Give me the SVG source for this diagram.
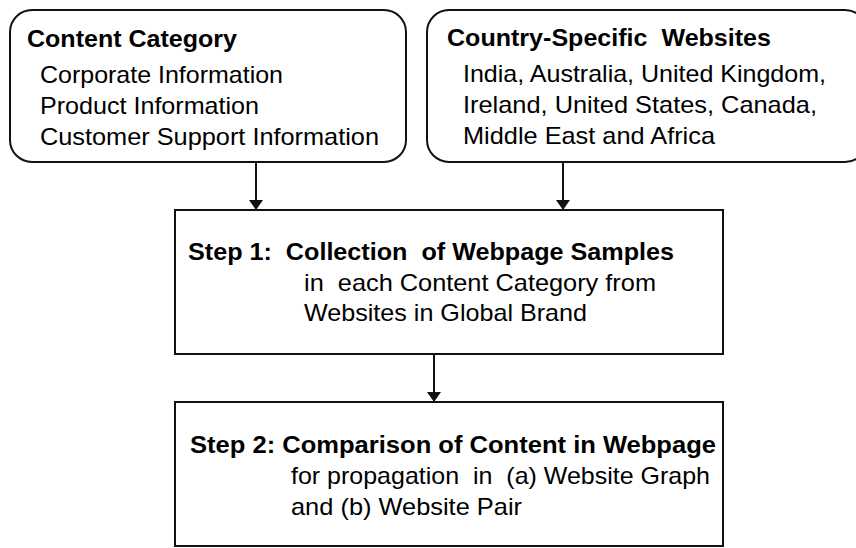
<svg xmlns="http://www.w3.org/2000/svg" width="856" height="548" viewBox="0 0 856 548">
  <style>
    .box { fill: #ffffff; stroke: #111111; stroke-width: 2; }
    .edge { stroke: #111111; stroke-width: 2; fill: none; }
    text { font-family: "Liberation Sans", Arial, sans-serif; font-size: 24px; fill: #000000; white-space: pre; }
    .title { font-weight: bold; }
  </style>
  <defs>
    <marker id="arrow" viewBox="0 0 10 14" refX="10" refY="7" markerWidth="10" markerHeight="14" markerUnits="userSpaceOnUse" orient="auto">
      <path d="M0,0 L10,7 L0,14 Z" fill="#111111"/>
    </marker>
  </defs>

  <rect width="856" height="548" fill="#ffffff"/>

  <g id="content-category">
    <rect class="box" x="10" y="10" width="396" height="152" rx="22" ry="22"/>
    <text class="title" x="27" y="47" textLength="210" lengthAdjust="spacingAndGlyphs">Content Category</text>
    <text x="40" y="83" textLength="243" lengthAdjust="spacingAndGlyphs">Corporate Information</text>
    <text x="40" y="114" textLength="219" lengthAdjust="spacingAndGlyphs">Product Information</text>
    <text x="40" y="145" textLength="339" lengthAdjust="spacingAndGlyphs">Customer Support Information</text>
  </g>

  <g id="country-websites">
    <rect class="box" x="427" y="10" width="440" height="152" rx="22" ry="22"/>
    <text class="title" x="447" y="46" textLength="324" lengthAdjust="spacingAndGlyphs">Country-Specific  Websites</text>
    <text x="463" y="82" textLength="363" lengthAdjust="spacingAndGlyphs">India, Australia, United Kingdom,</text>
    <text x="463" y="113" textLength="354" lengthAdjust="spacingAndGlyphs">Ireland, United States, Canada,</text>
    <text x="463" y="144" textLength="252" lengthAdjust="spacingAndGlyphs">Middle East and Africa</text>
  </g>

  <g id="step1">
    <rect class="box" x="175" y="210" width="548" height="144"/>
    <text class="title" x="188" y="260" textLength="486" lengthAdjust="spacingAndGlyphs">Step 1:  Collection  of Webpage Samples</text>
    <text x="304" y="291" textLength="352" lengthAdjust="spacingAndGlyphs">in  each Content Category from</text>
    <text x="304" y="321" textLength="283" lengthAdjust="spacingAndGlyphs">Websites in Global Brand</text>
  </g>

  <g id="step2">
    <rect class="box" x="175" y="402" width="548" height="144"/>
    <text class="title" x="190" y="453" textLength="526" lengthAdjust="spacingAndGlyphs">Step 2: Comparison of Content in Webpage</text>
    <text x="291" y="484" textLength="419" lengthAdjust="spacingAndGlyphs">for propagation  in  (a) Website Graph</text>
    <text x="291" y="515" textLength="231" lengthAdjust="spacingAndGlyphs">and (b) Website Pair</text>
  </g>

  <g id="connectors">
    <line class="edge" x1="256" y1="163" x2="256" y2="210" marker-end="url(#arrow)"/>
    <line class="edge" x1="563" y1="163" x2="563" y2="210" marker-end="url(#arrow)"/>
    <line class="edge" x1="434" y1="355" x2="434" y2="402" marker-end="url(#arrow)"/>
  </g>
</svg>
